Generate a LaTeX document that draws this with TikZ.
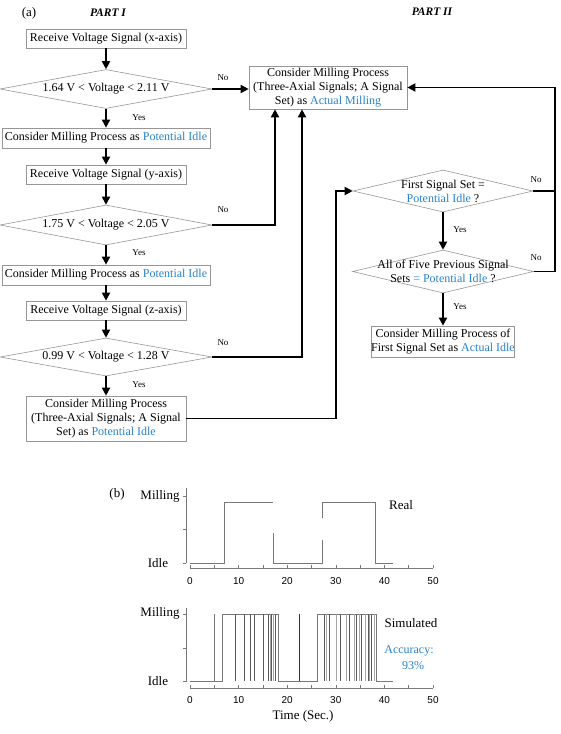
\documentclass[tikz,border=0pt]{standalone}
\usepackage{fontspec}
\setmainfont{Liberation Serif}
\newfontfamily\arialf{Liberation Sans}
\usetikzlibrary{shapes.geometric,arrows.meta}
\definecolor{pblue}{RGB}{40,130,200}
\definecolor{bgray}{RGB}{150,150,150}
\definecolor{agray}{RGB}{120,120,120}
\begin{document}
\begin{tikzpicture}[x=1pt,y=-1pt,
  box/.style={draw=bgray, line width=0.7pt, inner sep=0pt, align=center, font=\fontsize{12}{14}\selectfont},
  dia/.style={draw=bgray, line width=0.6pt, shape=diamond, inner sep=0pt},
  dtext/.style={align=center, inner sep=0pt, font=\fontsize{12}{14}\selectfont},
  conn/.style={line width=1.8pt, -{Triangle[length=8pt,width=8pt]}},
  plainc/.style={line width=1.8pt},
  lab/.style={font=\fontsize{9}{10}\selectfont, inner sep=0pt},
  head/.style={font=\fontsize{11.5}{13}\selectfont\bfseries\itshape, inner sep=0pt},
  plab/.style={font=\fontsize{13}{15}\selectfont, inner sep=0pt},
  tick/.style={font=\arialf\fontsize{10}{12}\selectfont, inner sep=0pt},
  axisl/.style={draw=agray, line width=0.6pt},
  sig/.style={draw=agray, line width=0.7pt},
]
\useasboundingbox (0,0) rectangle (560,734);

% headings
\node[font=\fontsize{13}{15}\selectfont, inner sep=0pt] (la) at (29,13) {(a)};
\node[head] (p1) at (108,13) {PART I};
\node[head] (p2) at (432,12) {PART II};

% PART I
\node[box, minimum width=160pt, minimum height=19pt] (bx) at (106,38.5) {Receive Voltage Signal (x-axis)};
\node[dia, minimum width=212pt, minimum height=39pt] (d1) at (106,89) {};
\node[dtext] at (d1) {1.64 V < Voltage < 2.11 V};
\node[box, minimum width=208pt, minimum height=20pt] (pi1) at (106,138) {Consider Milling Process as \textcolor{pblue}{Potential Idle}};
\node[box, minimum width=160pt, minimum height=19pt] (by) at (106,174.5) {Receive Voltage Signal (y-axis)};
\node[dia, minimum width=212pt, minimum height=40pt] (d2) at (106,225) {};
\node[dtext] at (d2) {1.75 V < Voltage < 2.05 V};
\node[box, minimum width=208pt, minimum height=20pt] (pi2) at (106,275) {Consider Milling Process as \textcolor{pblue}{Potential Idle}};
\node[box, minimum width=160pt, minimum height=19pt] (bz) at (106,310.5) {Receive Voltage Signal (z-axis)};
\node[dia, minimum width=212pt, minimum height=38pt] (d3) at (106,357) {};
\node[dtext] at (d3) {0.99 V < Voltage < 1.28 V};
\node[box, minimum width=160pt, minimum height=45pt] (pia) at (106,418.5) {Consider Milling Process\\(Three-Axial Signals; A Signal\\Set) as \textcolor{pblue}{Potential Idle}};

% PART II
\node[box, minimum width=158pt, minimum height=43pt] (am) at (328,87.5) {Consider Milling Process\\(Three-Axial Signals; A Signal\\Set) as \textcolor{pblue}{Actual Milling}};
\node[dia, minimum width=180pt, minimum height=42pt] (df) at (443,191) {};
\node[dtext] at (df) {First Signal Set =\\\textcolor{pblue}{Potential Idle} ?};
\node[dia, minimum width=181pt, minimum height=43pt] (da) at (443,271.5) {};
\node[dtext] at (da) {All of Five Previous Signal\\Sets \textcolor{pblue}{= Potential Idle} ?};
\node[box, minimum width=132pt, minimum height=31pt] (ai) at (443,341.5) {Consider Milling Process of\\First Signal Set as \textcolor{pblue}{Actual Idle}};

\coordinate (jl) at (336,420);
\coordinate (jr) at (555,191);

% connectors part I
\draw[conn] (bx.south) -- (d1.north);
\draw[conn] (d1.south) -- (pi1.north);
\draw[conn] (pi1.south) -- (by.north);
\draw[conn] (by.south) -- (d2.north);
\draw[conn] (d2.south) -- (pi2.north);
\draw[conn] (pi2.south) -- (bz.north);
\draw[conn] (bz.south) -- (d3.north);
\draw[conn] (d3.south) -- (pia.north);

\draw[conn] (d1.east) -- (d1.east -| am.west);
\draw[conn] (d2.east) -| ([xshift=-53pt]am.south);
\draw[conn] (d3.east) -| ([xshift=-26pt]am.south);
\draw[conn] (pia.east) -- (pia.east -| jl) |- (df.west);

% connectors part II
\draw[conn] (df.south) -- (da.north);
\draw[conn] (da.south) -- (ai.north);
\draw[conn] (df.east) -- (df.east -| jr) |- (am.east);
\draw[plainc] (da.east) -| (jr);

% yes / no labels
\node[lab] (n1) at (223,78) {No};
\node[lab] (n2) at (223,210) {No};
\node[lab] (n3) at (223,343) {No};
\node[lab] (n4) at (536,180) {No};
\node[lab] (n5) at (536,258) {No};
\node[lab] (y1) at (139,118) {Yes};
\node[lab] (y2) at (139,253) {Yes};
\node[lab] (y3) at (139,385) {Yes};
\node[lab] (y4) at (460,230) {Yes};
\node[lab] (y5) at (460,307) {Yes};

% (b)
\node[plab] (lb) at (117,494) {(b)};

% plot 1
\node[plab] (m1) at (160,496) {Milling};
\node[plab] (i1) at (158,563) {Idle};
\node[plab] (real) at (401,505) {Real};
\begin{scope}[shift={(190,0)}, x=4.86pt]
  \draw[axisl] (-0.82,488) -- (-0.82,563);
  \foreach \yy in {496,529.5,563} \draw[axisl] (-0.82,\yy) -- ++(-3.5pt,0);
  \draw[axisl] (0,568) -- (50,568);
  \foreach \tt in {0,5,...,50} \draw[axisl] (\tt,568) -- ++(0,3.5pt);
  \foreach \tt in {0,10,...,50} \node[tick] at (\tt,581) {\tt};
  \draw[sig] (0,563) -- (7,563) -- (7,502) -- (17.1,502);
  \draw[sig] (17.1,533) -- (17.1,563) -- (27.2,563) -- (27.2,540);
  \draw[sig] (27.2,518) -- (27.2,502) -- (38.1,502) -- (38.1,563) -- (41.8,563);
\end{scope}

% plot 2
\node[plab] (m2) at (160,613) {Milling};
\node[plab] (i2) at (158,681) {Idle};
\node[plab] (sim) at (411,623) {Simulated};
\node[font=\fontsize{12}{14}\selectfont, text=pblue, inner sep=0pt] (acc) at (409,651) {Accuracy:};
\node[font=\fontsize{12}{14}\selectfont, text=pblue, inner sep=0pt] (pc) at (413,666) {93\%};
\node[plab] (tm) at (303,716) {Time (Sec.)};
\begin{scope}[shift={(190,0)}, x=4.86pt]
  \draw[axisl] (-0.82,608) -- (-0.82,682);
  \foreach \yy in {614,648,681} \draw[axisl] (-0.82,\yy) -- ++(-3.5pt,0);
  \draw[axisl] (0,688) -- (50,688);
  \foreach \tt in {0,5,...,50} \draw[axisl] (\tt,688) -- ++(0,3.5pt);
  \foreach \tt in {0,10,...,50} \node[tick] at (\tt,700) {\tt};
  \draw[sig] (0,681) -- (6.6,681) -- (6.6,614) -- (18.1,614) -- (18.1,681) -- (26.3,681) -- (26.3,614) -- (38.4,614) -- (38.4,681) -- (41.8,681);
  \draw[sig] (5.1,681) -- (5.1,614);
  \draw[sig, draw=black!80] (22.6,681) -- (22.6,614);
  \foreach \tt in {9.3,11.2,12.5,13.2,15.1,16.1,16.8,17.6,27.6,28.7,30.9,32.8,34.3,35.3,36.7,37.4}
    \draw[sig, draw=black!65] (\tt,614) -- (\tt,681);
  \foreach \tt in {16.5,17.1,28.1,30.2,32.2,33.9,34.8,36.0,37.0,37.9}
    \draw[sig, draw=black!35] (\tt,614) -- (\tt,681);
\end{scope}
\end{tikzpicture}
\end{document}
